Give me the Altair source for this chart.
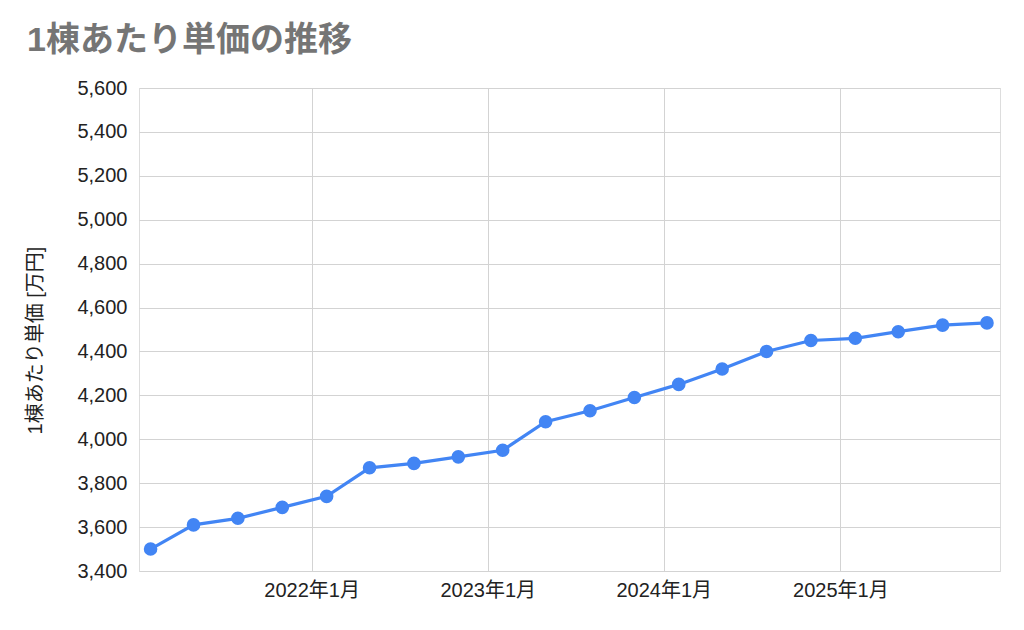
import altair as alt
import pandas as pd

dates = [
    "2021-02-01", "2021-05-01", "2021-08-01", "2021-11-01",
    "2022-02-01", "2022-05-01", "2022-08-01", "2022-11-01",
    "2023-02-01", "2023-05-01", "2023-08-01", "2023-11-01",
    "2024-02-01", "2024-05-01", "2024-08-01", "2024-11-01",
    "2025-02-01", "2025-05-01", "2025-08-01", "2025-11-01",
]
values = [
    3500, 3610, 3640, 3690,
    3740, 3870, 3890, 3920,
    3950, 4080, 4130, 4190,
    4250, 4320, 4400, 4450,
    4460, 4490, 4520, 4530,
]
y_ticks = [3400, 3600, 3800, 4000, 4200, 4400, 4600, 4800, 5000, 5200, 5400, 5600]
x_tick_years = [2022, 2023, 2024, 2025]

df = pd.DataFrame({"date": dates, "value": values})

LATIN_CJK = "'Liberation Sans', 'Noto Sans CJK JP', sans-serif"
BLUE = "#4285F4"
W, H = 861, 483

x_enc = alt.X(
    "date:T",
    scale=alt.Scale(
        type="utc",
        domain=[
            alt.DateTime(year=2021, month=1, date=8, utc=True),
            alt.DateTime(year=2025, month=11, date=28, utc=True),
        ],
        nice=False,
    ),
    axis=alt.Axis(
        title=None,
        values=[alt.DateTime(year=y, month=1, date=1, utc=True) for y in x_tick_years],
        labelExpr="utcyear(datum.value) + '年' + (utcmonth(datum.value) + 1) + '月'",
        labelFont=LATIN_CJK,
        labelFontSize=20,
        labelColor="#222222",
        labelPadding=9,
        ticks=False,
        domain=False,
        grid=True,
        gridColor="#d3d3d3",
        gridWidth=1,
        labelFlush=False,
    ),
)
y_enc = alt.Y(
    "value:Q",
    scale=alt.Scale(domain=[3400, 5600], nice=False, zero=False),
    axis=alt.Axis(
        title="1棟あたり単価 [万円]",
        values=y_ticks,
        format=",d",
        labelFont=LATIN_CJK,
        labelFontSize=20,
        labelColor="#222222",
        labelPadding=12,
        ticks=False,
        domain=False,
        grid=True,
        gridColor="#d3d3d3",
        gridWidth=1,
        titleFont=LATIN_CJK,
        titleFontSize=20,
        titleFontWeight="normal",
        titleColor="#222222",
        titleAngle=-90,
        titleX=-104,
        titleY=252,
        titleAlign="center",
        titleBaseline="middle",
    ),
)

base = alt.Chart(df).encode(x=x_enc, y=y_enc)
line = base.mark_line(color=BLUE, strokeWidth=3.2)
points = base.mark_point(filled=True, color=BLUE, size=185, opacity=1)

chart = (
    alt.layer(line, points)
    .properties(
        width=W,
        height=H,
        title=alt.TitleParams(
            text="1棟あたり単価の推移",
            anchor="start",
            frame="bounds",
            font="'Liberation Sans', 'Noto Sans CJK JP', sans-serif",
            fontSize=34,
            fontWeight="bold",
            color="#757575",
            offset=20,
            dx=2,
        ),
        autosize=alt.AutoSizeParams(type="none"),
        padding={"left": 131, "top": 80, "right": 16, "bottom": 40},
    )
    .configure_view(stroke=None)
    .configure(background="white")
)

chart.save("out.html", embed_options={"renderer": "svg", "actions": False})
